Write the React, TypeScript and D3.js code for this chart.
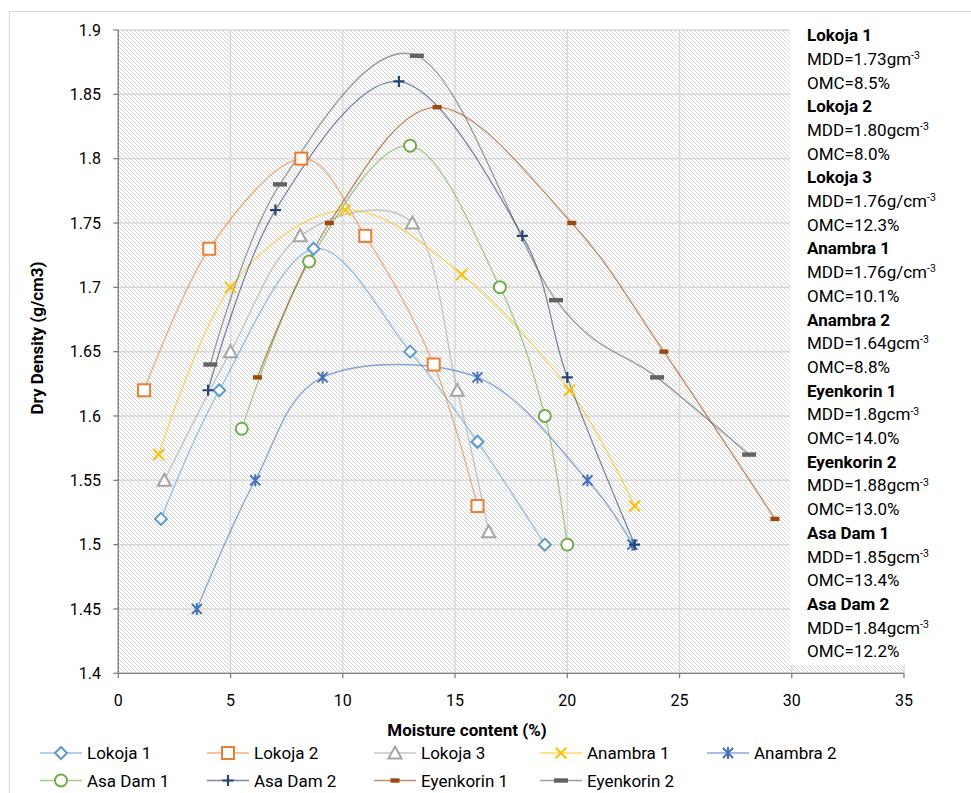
import React from "react";
import * as d3 from "d3";

const seriesNames = ["Lokoja 1", "Lokoja 2", "Lokoja 3", "Anambra 1", "Anambra 2", "Asa Dam 1", "Asa Dam 2", "Eyenkorin 1", "Eyenkorin 2"];
const seriesColors = ["#5B9BD5", "#ED7D31", "#A5A5A5", "#FFC000", "#4472C4", "#70AD47", "#264478", "#9E480E", "#636363"];
const markerTypes = ["diamond", "square", "triangle", "x", "star", "circle", "plus", "dashS", "dashL"];

const lokoja1X = [1.9, 4.5, 8.7, 13.0, 16.0, 19.0];
const lokoja1Y = [1.52, 1.62, 1.73, 1.65, 1.58, 1.50];
const lokoja2X = [1.15, 4.05, 8.15, 11.0, 14.05, 16.0];
const lokoja2Y = [1.62, 1.73, 1.80, 1.74, 1.64, 1.53];
const lokoja3X = [2.05, 5.0, 8.1, 13.1, 15.1, 16.5];
const lokoja3Y = [1.55, 1.65, 1.74, 1.75, 1.62, 1.51];
const anambra1X = [1.8, 5.0, 10.1, 15.3, 20.1, 23.0];
const anambra1Y = [1.57, 1.70, 1.76, 1.71, 1.62, 1.53];
const anambra2X = [3.5, 6.1, 9.1, 16.0, 20.9, 22.9];
const anambra2Y = [1.45, 1.55, 1.63, 1.63, 1.55, 1.50];
const asaDam1X = [5.5, 8.5, 13.0, 17.0, 19.0, 20.0];
const asaDam1Y = [1.59, 1.72, 1.81, 1.70, 1.60, 1.50];
const asaDam2X = [4.0, 7.0, 12.5, 18.0, 20.0, 23.0];
const asaDam2Y = [1.62, 1.76, 1.86, 1.74, 1.63, 1.50];
const eyenkorin1X = [6.2, 9.4, 14.2, 20.2, 24.3, 29.25];
const eyenkorin1Y = [1.63, 1.75, 1.84, 1.75, 1.65, 1.52];
const eyenkorin2X = [4.1, 7.2, 13.3, 19.5, 24.0, 28.1];
const eyenkorin2Y = [1.64, 1.78, 1.88, 1.69, 1.63, 1.57];

const allX = [lokoja1X, lokoja2X, lokoja3X, anambra1X, anambra2X, asaDam1X, asaDam2X, eyenkorin1X, eyenkorin2X];
const allY = [lokoja1Y, lokoja2Y, lokoja3Y, anambra1Y, anambra2Y, asaDam1Y, asaDam2Y, eyenkorin1Y, eyenkorin2Y];

const xTicks = [0, 5, 10, 15, 20, 25, 30, 35];
const yTicks = [1.4, 1.45, 1.5, 1.55, 1.6, 1.65, 1.7, 1.75, 1.8, 1.85, 1.9];

const noteNames = ["Lokoja 1", "Lokoja 2", "Lokoja 3", "Anambra 1", "Anambra 2", "Eyenkorin 1", "Eyenkorin 2", "Asa Dam 1", "Asa Dam 2"];
const noteMDD = ["MDD=1.73gm", "MDD=1.80gcm", "MDD=1.76g/cm", "MDD=1.76g/cm", "MDD=1.64gcm", "MDD=1.8gcm", "MDD=1.88gcm", "MDD=1.85gcm", "MDD=1.84gcm"];
const noteOMC = ["OMC=8.5%", "OMC=8.0%", "OMC=12.3%", "OMC=10.1%", "OMC=8.8%", "OMC=14.0%", "OMC=13.0%", "OMC=13.4%", "OMC=12.2%"];

const FONT = "Roboto, 'Liberation Sans', sans-serif";

function Marker({ type, cx, cy, color }: { type: string; cx: number; cy: number; color: string }) {
  const sw = 2;
  switch (type) {
    case "diamond":
      return <path d={`M${cx},${cy - 6}L${cx + 6},${cy}L${cx},${cy + 6}L${cx - 6},${cy}Z`} fill="#fff" stroke={color} strokeWidth={sw} />;
    case "square":
      return <rect x={cx - 6} y={cy - 6} width={12} height={12} fill="#fff" stroke={color} strokeWidth={sw} />;
    case "triangle":
      return <path d={`M${cx},${cy - 6.5}L${cx + 6.5},${cy + 5.5}L${cx - 6.5},${cy + 5.5}Z`} fill="#fff" stroke={color} strokeWidth={sw} />;
    case "x":
      return <path d={`M${cx - 5.5},${cy - 5.5}L${cx + 5.5},${cy + 5.5}M${cx - 5.5},${cy + 5.5}L${cx + 5.5},${cy - 5.5}`} stroke={color} strokeWidth={sw} fill="none" />;
    case "star":
      return <path d={`M${cx - 5},${cy - 5}L${cx + 5},${cy + 5}M${cx - 5},${cy + 5}L${cx + 5},${cy - 5}M${cx},${cy - 6}L${cx},${cy + 6}`} stroke={color} strokeWidth={sw} fill="none" />;
    case "circle":
      return <circle cx={cx} cy={cy} r={6} fill="#fff" stroke={color} strokeWidth={sw} />;
    case "plus":
      return <path d={`M${cx - 5.5},${cy}L${cx + 5.5},${cy}M${cx},${cy - 5.5}L${cx},${cy + 5.5}`} stroke={color} strokeWidth={2.2} fill="none" />;
    case "dashS":
      return <rect x={cx - 4.5} y={cy - 2.2} width={9} height={4.4} fill={color} />;
    case "dashL":
      return <rect x={cx - 7} y={cy - 2.2} width={14} height={4.4} fill={color} />;
    default:
      return null;
  }
}

export default function App() {
  const W = 971, H = 793;
  const x = d3.scaleLinear().domain([0, 35]).range([118.3, 904]);
  const y = d3.scaleLinear().domain([1.4, 1.9]).range([673.3, 30]);
  const line = d3
    .line<[number, number]>()
    .x((d) => x(d[0]))
    .y((d) => y(d[1]))
    .curve(d3.curveCardinal.tension(0));

  const fmt = (v: number) => String(+v.toFixed(2));

  const legendCols = [40, 207, 374, 540, 707];
  const legendRows = [753, 780.5];

  const noteX = 807;
  const noteY0 = 35;
  const noteStep = 23.7;

  return (
    <svg width={W} height={H} style={{ position: "absolute", left: 0, top: 0, fontFamily: FONT }}>
      <defs>
        <pattern id="hatch" patternUnits="userSpaceOnUse" width={4} height={4}>
          <rect width={4} height={4} fill="#fff" />
          <path d="M-1,-1L5,5M-1,3L1,5M3,-1L5,1" stroke="#d3d3d3" strokeWidth={1} />
        </pattern>
        <clipPath id="plotclip">
          <rect x={x(0)} y={y(1.9)} width={x(35) - x(0)} height={y(1.4) - y(1.9)} />
        </clipPath>
      </defs>
      <rect x={0} y={0} width={W} height={H} fill="#fff" />
      <rect x={9.5} y={11.5} width={980} height={800} fill="#fff" stroke="#d9d9d9" strokeWidth={1} />

      {/* plot background */}
      <rect x={x(0)} y={y(1.9)} width={x(35) - x(0)} height={y(1.4) - y(1.9)} fill="url(#hatch)" />

      {/* gridlines */}
      {yTicks.map((t) => (
        <line key={"gy" + t} x1={x(0)} x2={x(35)} y1={y(t)} y2={y(t)} stroke="#d9d9d9" strokeWidth={1.5} />
      ))}
      {xTicks.map((t) => (
        <line key={"gx" + t} x1={x(t)} x2={x(t)} y1={y(1.4)} y2={y(1.9)} stroke="#d9d9d9" strokeWidth={1.5} />
      ))}

      {/* series lines */}
      <g clipPath="url(#plotclip)">
        {allX.map((xs, i) => (
          <path
            key={"l" + i}
            d={line(xs.map((v, j) => [v, allY[i][j]] as [number, number])) || ""}
            fill="none"
            stroke={seriesColors[i]}
            strokeOpacity={0.62}
            strokeWidth={1.3}
          />
        ))}
      </g>

      {/* annotation box */}
      <rect x={790} y={28} width={190} height={637} fill="#fff" />

      {/* markers */}
      {allX.map((xs, i) => (
        <g key={"m" + i}>
          {xs.map((v, j) => (
            <Marker key={j} type={markerTypes[i]} cx={x(v)} cy={y(allY[i][j])} color={seriesColors[i]} />
          ))}
        </g>
      ))}

      {/* axes */}
      <line x1={x(0)} x2={x(0)} y1={y(1.4)} y2={y(1.9)} stroke="#7f7f7f" strokeWidth={1.3} />
      <line x1={x(0)} x2={x(35)} y1={y(1.4)} y2={y(1.4)} stroke="#7f7f7f" strokeWidth={1.3} />
      {yTicks.map((t) => (
        <g key={"ty" + t}>
          <line x1={x(0) - 5} x2={x(0)} y1={y(t)} y2={y(t)} stroke="#7f7f7f" strokeWidth={1.3} />
          <text x={101} y={y(t)} dy="0.36em" textAnchor="end" fontSize={16} fill="#000">
            {fmt(t)}
          </text>
        </g>
      ))}
      {xTicks.map((t) => (
        <g key={"tx" + t}>
          <line x1={x(t)} x2={x(t)} y1={y(1.4)} y2={y(1.4) + 5} stroke="#7f7f7f" strokeWidth={1.3} />
          <text x={x(t)} y={706} textAnchor="middle" fontSize={16} fill="#000">
            {fmt(t)}
          </text>
        </g>
      ))}

      {/* axis titles */}
      <text x={467} y={736} textAnchor="middle" fontSize={17} fontWeight="bold" fill="#000">
        Moisture content (%)
      </text>
      <text transform={`translate(43,338) rotate(-90)`} textAnchor="middle" fontSize={17} fontWeight="bold" fill="#000">
        Dry Density (g/cm3)
      </text>

      {/* annotations */}
      {noteNames.map((n, i) => {
        const y0 = noteY0 + i * 3 * noteStep;
        return (
          <g key={"n" + i} fontSize={17} fill="#000">
            <text x={noteX} y={y0} dy="0.36em" fontWeight="bold">
              {n}
            </text>
            <text x={noteX} y={y0 + noteStep} dy="0.36em">
              {noteMDD[i]}
              <tspan fontSize={10.5} dy="-0.55em">-3</tspan>
            </text>
            <text x={noteX} y={y0 + 2 * noteStep} dy="0.36em">
              {noteOMC[i]}
            </text>
          </g>
        );
      })}

      {/* legend */}
      {seriesNames.map((n, i) => {
        const lx = legendCols[i % 5];
        const ly = legendRows[Math.floor(i / 5)];
        return (
          <g key={"lg" + i}>
            <line x1={lx} x2={lx + 42} y1={ly} y2={ly} stroke={seriesColors[i]} strokeOpacity={0.62} strokeWidth={1.5} />
            <Marker type={markerTypes[i]} cx={lx + 21} cy={ly} color={seriesColors[i]} />
            <text x={lx + 47} y={ly} dy="0.36em" fontSize={17} fill="#000">
              {n}
            </text>
          </g>
        );
      })}
    </svg>
  );
}
